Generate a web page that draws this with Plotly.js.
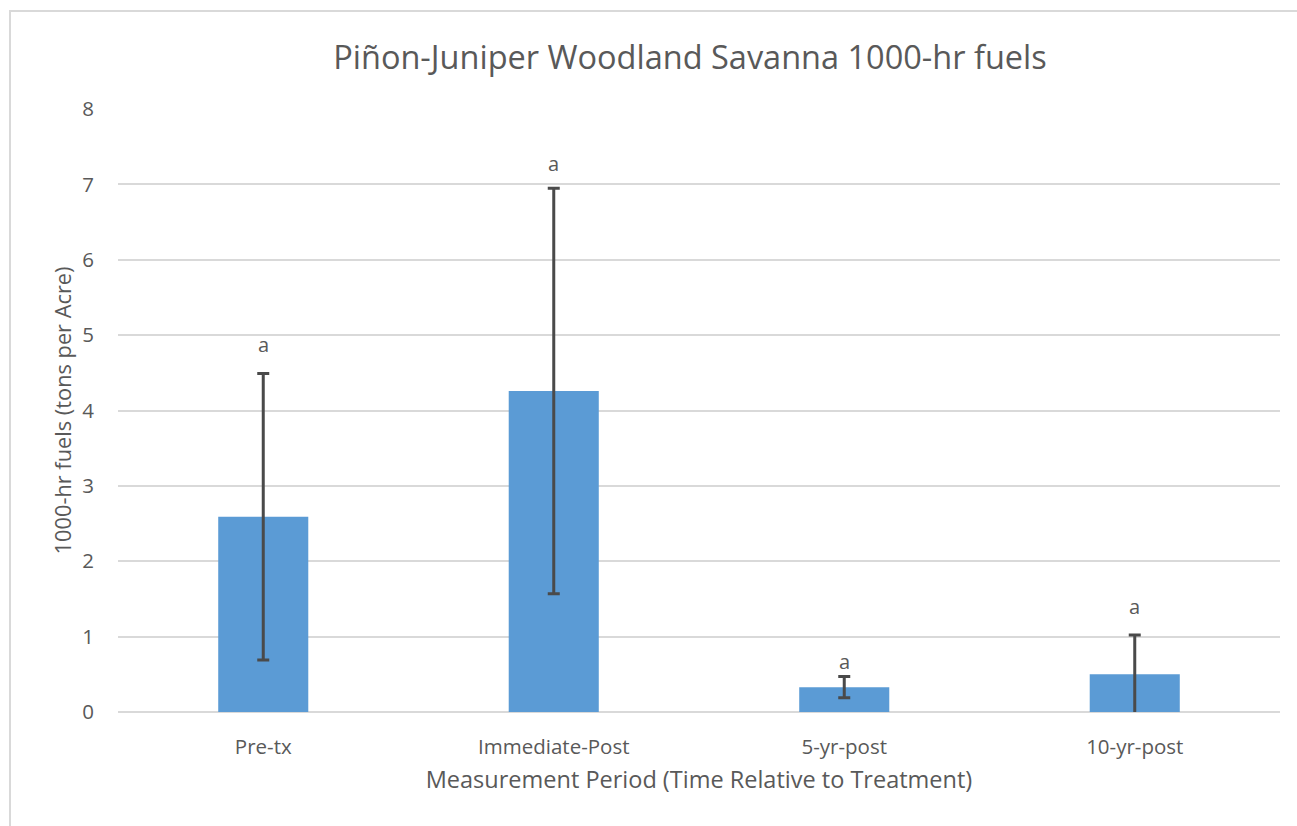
<!DOCTYPE html>
<html>
<head>
<meta charset="utf-8">
<script src="https://cdn.plot.ly/plotly-3.0.1.min.js"></script>
<style>
  html, body { margin: 0; padding: 0; background: #fff; overflow: hidden; }
  #wrap { position: relative; width: 1297px; height: 826px; }
  #chart { position: absolute; left: 0; top: 0; width: 1297px; height: 826px; }
  #frame { position: absolute; left: 9px; top: 10px; width: 1300px; height: 830px;
           border: 2px solid #d9d9d9; box-sizing: border-box; pointer-events: none; }
</style>
</head>
<body>
<div id="wrap">
  <div id="chart"></div>
  <div id="frame"></div>
</div>
<script>
const categories = ["Pre-tx", "Immediate-Post", "5-yr-post", "10-yr-post"];
const meanFuels = [2.59, 4.26, 0.33, 0.50];
const errorFuels = [1.90, 2.69, 0.14, 0.52];
const sigLetters = ["a", "a", "a", "a"];
const letterY = [4.88, 7.28, 0.67, 1.40];
const yTicks = [0, 1, 2, 3, 4, 5, 6, 7, 8];

const FONT = "'Open Sans', Lato, sans-serif";
const GRAY = "#595959";

const trace = {
  type: "bar",
  x: categories,
  y: meanFuels,
  marker: { color: "#5b9bd5" },
  error_y: {
    type: "data",
    array: errorFuels,
    visible: true,
    color: "#4a4a4a",
    thickness: 3,
    width: 6
  },
  hoverinfo: "x+y"
};

const annotations = categories.map((c, i) => ({
  x: c, y: letterY[i], xref: "x", yref: "y",
  text: sigLetters[i], showarrow: false,
  font: { family: FONT, size: 20, color: GRAY },
  yanchor: "middle"
}));

const layout = {
  width: 1297, height: 826,
  margin: { l: 118, r: 17, t: 109, b: 114 },
  paper_bgcolor: "#fff",
  plot_bgcolor: "#fff",
  bargap: 0.69,
  showlegend: false,
  title: {
    text: "Piñon-Juniper Woodland Savanna 1000-hr fuels",
    font: { family: FONT, size: 32.5, color: GRAY },
    x: 0.532, xanchor: "center",
    y: 0.93, yanchor: "middle"
  },
  xaxis: {
    type: "category",
    tickfont: { family: FONT, size: 20.5, color: GRAY },
    ticks: "outside", ticklen: 16, tickcolor: "rgba(0,0,0,0)",
    showline: false, showgrid: false,
    title: { text: "Measurement Period (Time Relative to Treatment)",
             font: { family: FONT, size: 23.5, color: GRAY }, standoff: 12 }
  },
  yaxis: {
    range: [0, 8],
    tickvals: yTicks,
    tickfont: { family: FONT, size: 20.5, color: GRAY },
    ticks: "outside", ticklen: 19, tickcolor: "rgba(0,0,0,0)",
    showgrid: true, gridcolor: "#d9d9d9", gridwidth: 2,
    zeroline: true, zerolinecolor: "#d9d9d9", zerolinewidth: 2,
    showline: false,
    title: { text: "1000-hr fuels (tons per Acre)",
             font: { family: FONT, size: 21.8, color: GRAY }, standoff: 4 }
  },
  annotations: annotations
};

Plotly.newPlot("chart", [trace], layout, { displayModeBar: false });
</script>
</body>
</html>
